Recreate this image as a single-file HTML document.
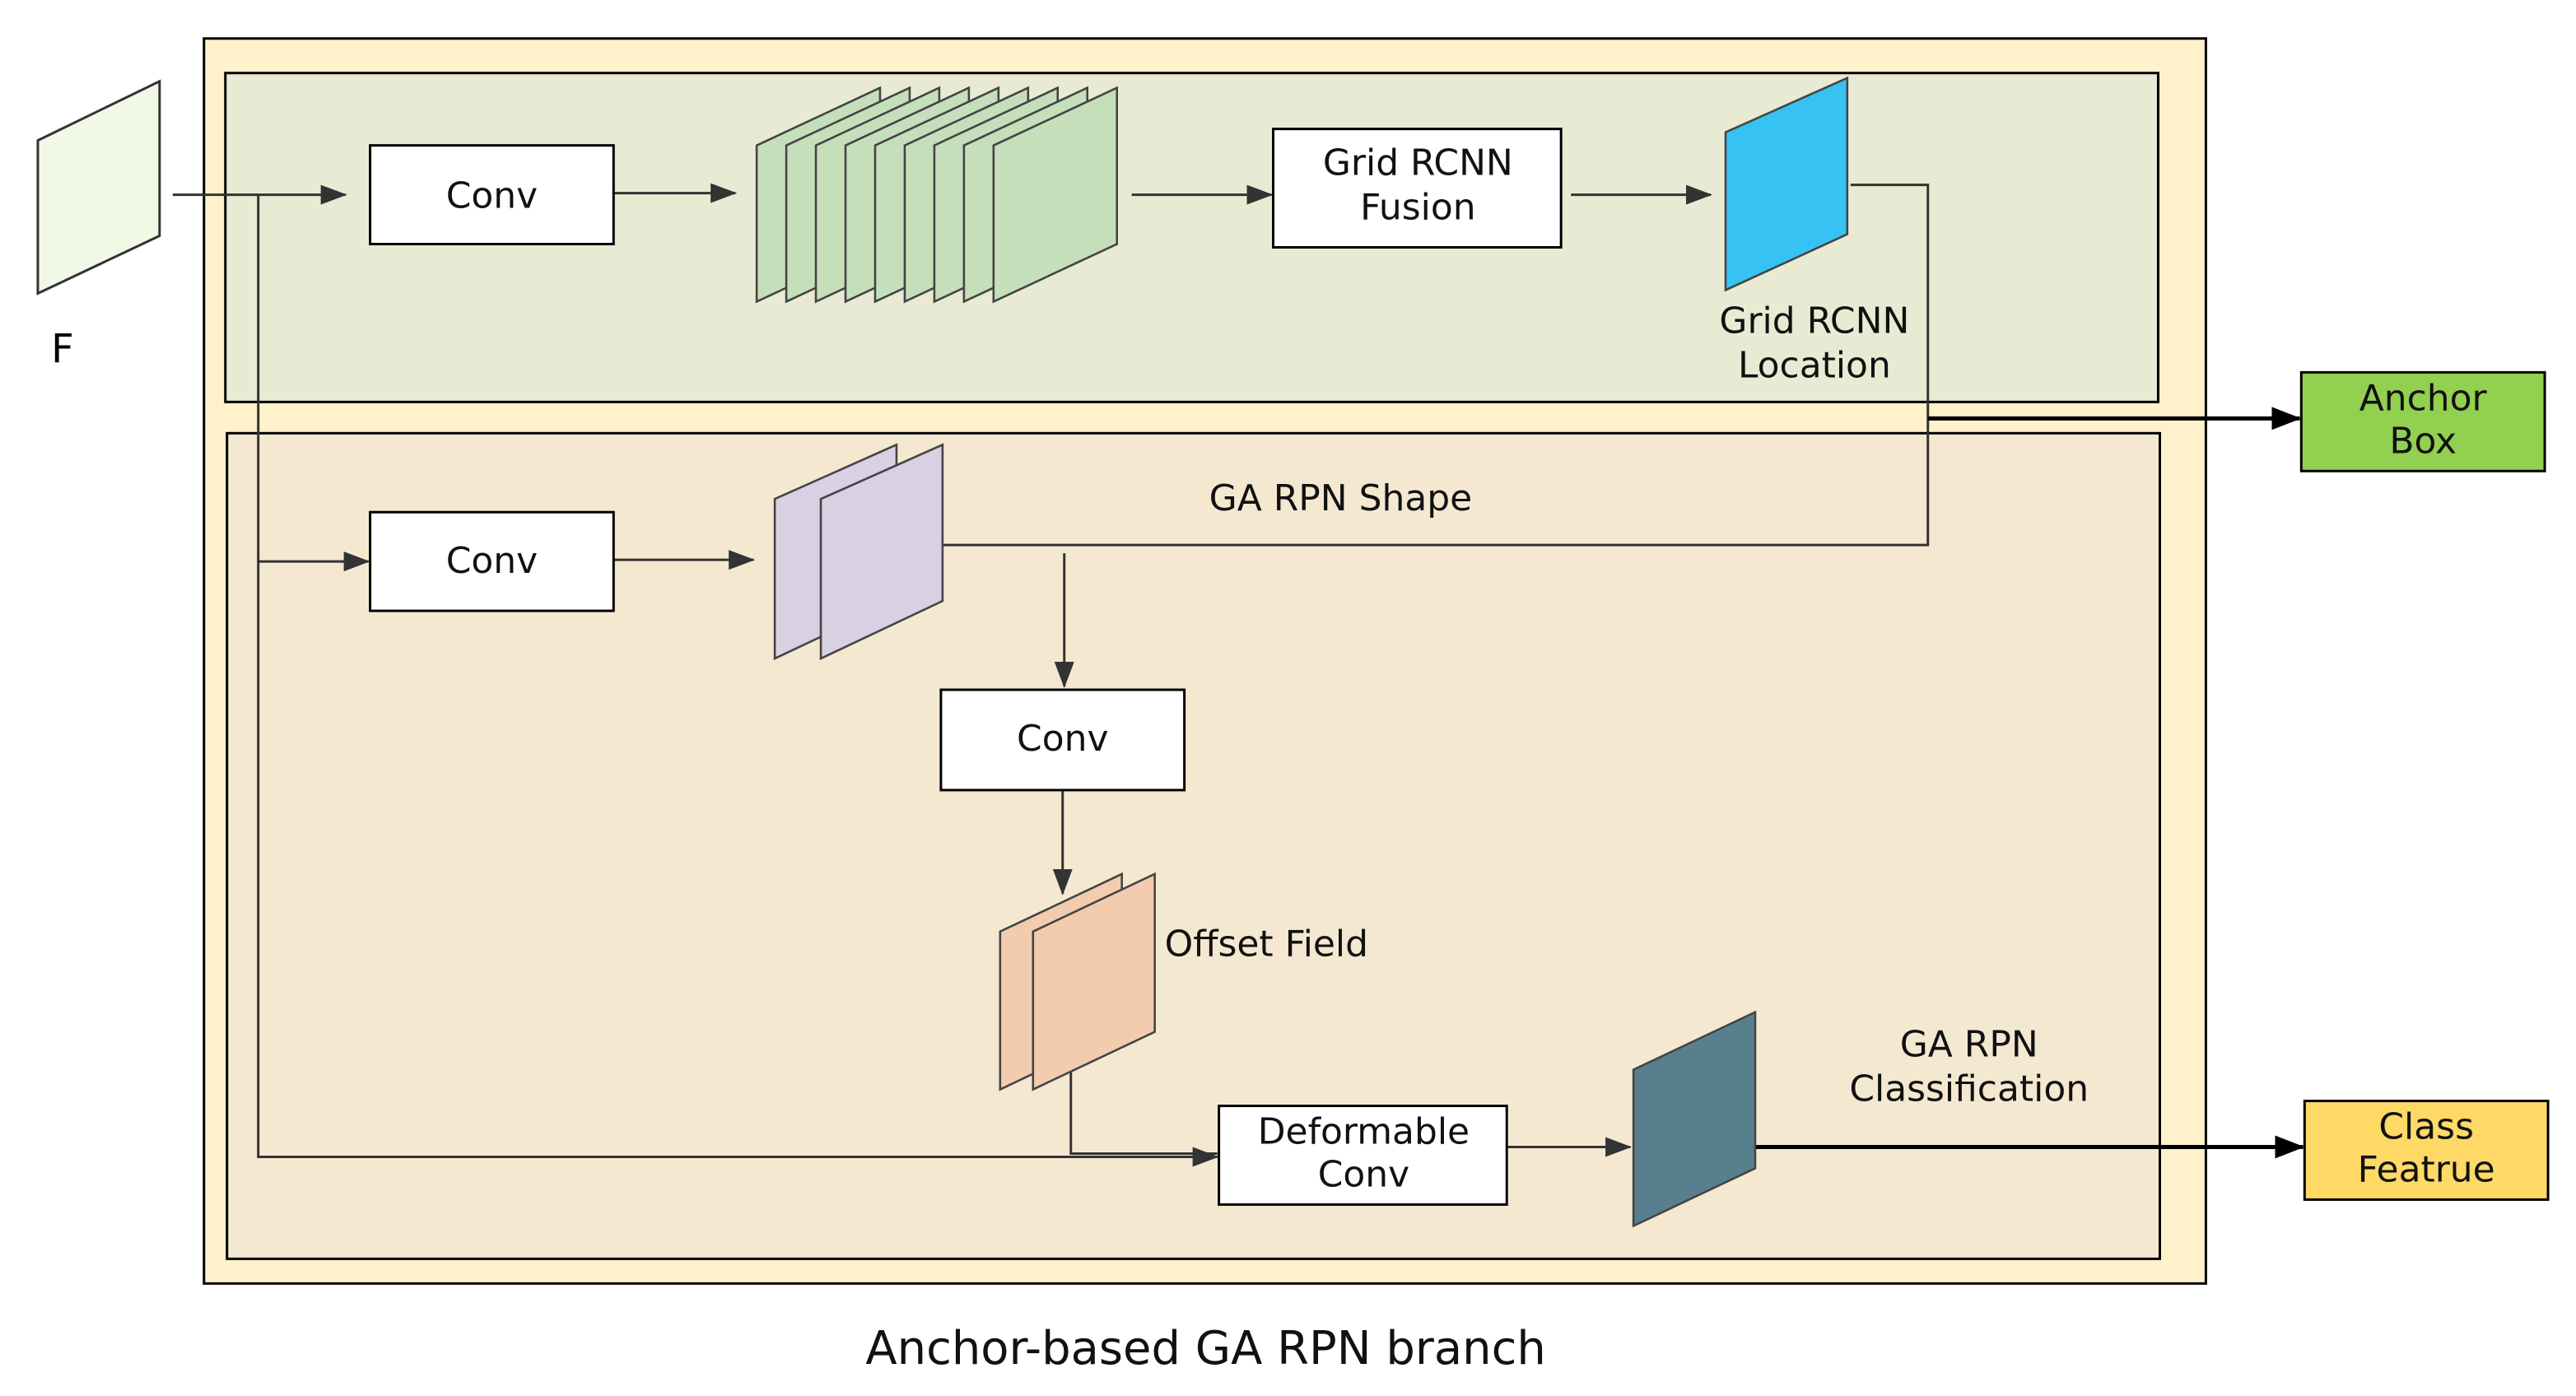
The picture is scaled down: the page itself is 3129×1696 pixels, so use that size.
<!DOCTYPE html>
<html><head><meta charset="utf-8"><style>html,body{margin:0;padding:0;background:#fff}svg{display:block}</style></head><body>
<svg width="3129" height="1696" viewBox="0 0 1566 848" xmlns="http://www.w3.org/2000/svg" font-family="DejaVu Sans, Liberation Sans, sans-serif">
<defs>
<marker id="m" markerWidth="16" markerHeight="12" refX="15" refY="6" orient="auto" markerUnits="userSpaceOnUse"><path d="M0,0 L16,6 L0,12 z" fill="#333"/></marker>
<marker id="b" markerWidth="18" markerHeight="14" refX="17" refY="7" orient="auto" markerUnits="userSpaceOnUse"><path d="M0,0 L18,7 L0,14 z" fill="#000"/></marker>
</defs>
<rect x="124" y="23" width="1217" height="757" fill="#fff1c9" stroke="#000" stroke-width="1.5"/>
<rect x="137" y="44" width="1175" height="200" fill="#e9ead3" stroke="#000" stroke-width="1.5"/>
<rect x="138" y="263" width="1175" height="502" fill="#f5e8d1" stroke="#000" stroke-width="1.5"/>
<polygon points="23,85 97,49 97,143 23,178" fill="#f1f8e6" stroke="#333" stroke-width="1.5"/>
<text x="38" y="220" font-size="24" text-anchor="middle">F</text>
<g stroke="#333" stroke-width="1.5" fill="none">
<line x1="105" y1="118" x2="210" y2="118" marker-end="url(#m)"/>
<polyline points="157,118 157,703 740,703" marker-end="url(#m)"/>
<line x1="157" y1="341" x2="224" y2="341" marker-end="url(#m)"/>
<line x1="373" y1="117" x2="447" y2="117" marker-end="url(#m)"/>
<line x1="688" y1="118" x2="773" y2="118" marker-end="url(#m)"/>
<line x1="955" y1="118" x2="1040" y2="118" marker-end="url(#m)"/>
<polyline points="1125,112 1172,112 1172,331 573,331"/>
<line x1="373" y1="340" x2="458" y2="340" marker-end="url(#m)"/>
<line x1="647" y1="336" x2="647" y2="417" marker-end="url(#m)"/>
<line x1="646" y1="480" x2="646" y2="543" marker-end="url(#m)"/>
<polyline points="651,648 651,701 740,701"/>
<line x1="916" y1="697" x2="991" y2="697" marker-end="url(#m)"/>
</g>
<line x1="1172" y1="254" x2="1398" y2="254" stroke="#000" stroke-width="2.5" marker-end="url(#b)"/>
<line x1="1067" y1="697" x2="1400" y2="697" stroke="#000" stroke-width="2.5" marker-end="url(#b)"/>
<g fill="#fff" stroke="#000" stroke-width="1.5">
<rect x="225" y="88" width="148" height="60"/>
<rect x="774" y="78" width="175" height="72"/>
<rect x="225" y="311" width="148" height="60"/>
<rect x="572" y="419" width="148" height="61"/>
<rect x="741" y="672" width="175" height="60"/>
</g>
<g fill="#c5dfbb" stroke="#444" stroke-width="1.3">
<polygon points="460,88 535,53 535,148 460,183"/>
<polygon points="478,88 553,53 553,148 478,183"/>
<polygon points="496,88 571,53 571,148 496,183"/>
<polygon points="514,88 589,53 589,148 514,183"/>
<polygon points="532,88 607,53 607,148 532,183"/>
<polygon points="550,88 625,53 625,148 550,183"/>
<polygon points="568,88 643,53 643,148 568,183"/>
<polygon points="586,88 661,53 661,148 586,183"/>
<polygon points="604,88 679,53 679,148 604,183"/>
</g>
<polygon points="1049,80 1123,47 1123,142 1049,176" fill="#36c2f2" stroke="#444" stroke-width="1.3"/>
<g fill="#d9d0e3" stroke="#444" stroke-width="1.3">
<polygon points="471,303 545,270 545,365 471,400"/>
<polygon points="499,303 573,270 573,365 499,400"/>
</g>
<g fill="#f3ccb0" stroke="#444" stroke-width="1.3">
<polygon points="608,566 682,531 682,627 608,662"/>
<polygon points="628,566 702,531 702,627 628,662"/>
</g>
<polygon points="993,650 1067,615 1067,710 993,745" fill="#587f8e" stroke="#444" stroke-width="1.3"/>
<rect x="1399" y="226" width="148" height="60" fill="#92d050" stroke="#000" stroke-width="1.5"/>
<rect x="1401" y="669" width="148" height="60" fill="#ffd966" stroke="#000" stroke-width="1.5"/>
<g font-size="22" text-anchor="middle" fill="#111">
<text x="299" y="126">Conv</text>
<text x="862" y="106">Grid RCNN</text>
<text x="862" y="133">Fusion</text>
<text x="1103" y="202">Grid RCNN</text>
<text x="1103" y="229">Location</text>
<text x="1473" y="249">Anchor</text>
<text x="1473" y="275">Box</text>
<text x="299" y="348">Conv</text>
<text x="815" y="310">GA RPN Shape</text>
<text x="646" y="456">Conv</text>
<text x="708" y="581" text-anchor="start">Offset Field</text>
<text x="829" y="695">Deformable</text>
<text x="829" y="721">Conv</text>
<text x="1197" y="642">GA RPN</text>
<text x="1197" y="669">Classification</text>
<text x="1475" y="692">Class</text>
<text x="1475" y="718">Featrue</text>
<text x="733" y="829" font-size="28">Anchor-based GA RPN branch</text>
</g>
</svg>
</body></html>
